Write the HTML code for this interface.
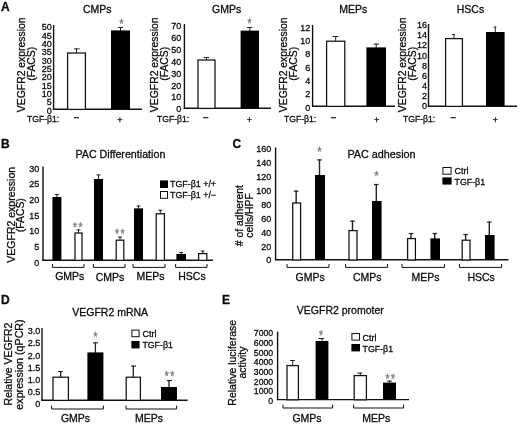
<!DOCTYPE html>
<html lang="en">
<head>
<meta charset="utf-8">
<title>Figure</title>
<style>
html,body{margin:0;padding:0;background:#fff;}
body{width:520px;height:425px;overflow:hidden;}
svg{display:block;}
svg text{font-family:"Liberation Sans", Arial, Helvetica, sans-serif;fill:#0a0a0a;stroke:#0a0a0a;stroke-width:0.28px;}
</style>
</head>
<body>
<svg width="520" height="425" viewBox="0 0 520 425">
<rect x="0" y="0" width="520" height="425" fill="#ffffff"/>
<text x="0.9" y="10.9" font-size="12" font-weight="bold">A</text>
<line x1="53.6" y1="25" x2="53.6" y2="109.7" stroke="#111" stroke-width="1.4"/>
<line x1="52.9" y1="109.2" x2="142" y2="109.2" stroke="#111" stroke-width="1.4"/>
<text x="51.8" y="113.74" font-size="9" text-anchor="end">0</text>
<text x="51.8" y="105.39" font-size="9" text-anchor="end">5</text>
<text x="51.8" y="97.04" font-size="9" text-anchor="end">10</text>
<text x="51.8" y="88.69" font-size="9" text-anchor="end">15</text>
<text x="51.8" y="80.34" font-size="9" text-anchor="end">20</text>
<text x="51.8" y="71.99" font-size="9" text-anchor="end">25</text>
<text x="51.8" y="63.64" font-size="9" text-anchor="end">30</text>
<text x="51.8" y="55.29" font-size="9" text-anchor="end">35</text>
<text x="51.8" y="46.94" font-size="9" text-anchor="end">40</text>
<text x="51.8" y="38.59" font-size="9" text-anchor="end">45</text>
<text x="51.8" y="30.24" font-size="9" text-anchor="end">50</text>
<line x1="76.5" y1="48.4" x2="76.5" y2="52.9" stroke="#222" stroke-width="1"/>
<line x1="74" y1="48.9" x2="79.6" y2="48.9" stroke="#222" stroke-width="1"/>
<rect x="67.6" y="53" width="17.8" height="56.4" fill="#fff" stroke="#111" stroke-width="1.25"/>
<line x1="120.5" y1="27" x2="120.5" y2="30.9" stroke="#222" stroke-width="1"/>
<line x1="118" y1="27.5" x2="123" y2="27.5" stroke="#222" stroke-width="1"/>
<rect x="111" y="30.4" width="19" height="78.6" fill="#000"/>
<text x="97.3" y="13" font-size="10.5" text-anchor="middle">CMPs</text>
<text x="25" y="64.8" font-size="10.4" text-anchor="middle" transform="rotate(-90 25 64.8)">VEGFR2 expression</text>
<text x="34.8" y="63.8" font-size="10.4" text-anchor="middle" transform="rotate(-90 34.8 63.8)">(FACS)</text>
<text x="27" y="122.4" font-size="8.6">TGF-β1:</text>
<text x="76.6" y="121.3" font-size="10" text-anchor="middle">−</text>
<text x="120" y="122.6" font-size="9" text-anchor="middle">+</text>
<text transform="translate(121.4 21.5) rotate(0.05) scale(0.85 1.22)" x="0" y="6.01" font-size="12" text-anchor="middle" style="fill:#7d7d7d;stroke:#7d7d7d;stroke-width:0.3px">*</text>
<line x1="184.4" y1="24" x2="184.4" y2="108.7" stroke="#111" stroke-width="1.4"/>
<line x1="183.7" y1="108.2" x2="271" y2="108.2" stroke="#111" stroke-width="1.4"/>
<text x="181.2" y="112.24" font-size="9" text-anchor="end">0</text>
<text x="181.2" y="100.38" font-size="9" text-anchor="end">10</text>
<text x="181.2" y="88.53" font-size="9" text-anchor="end">20</text>
<text x="181.2" y="76.67" font-size="9" text-anchor="end">30</text>
<text x="181.2" y="64.81" font-size="9" text-anchor="end">40</text>
<text x="181.2" y="52.95" font-size="9" text-anchor="end">50</text>
<text x="181.2" y="41.1" font-size="9" text-anchor="end">60</text>
<text x="181.2" y="29.24" font-size="9" text-anchor="end">70</text>
<line x1="206.5" y1="57" x2="206.5" y2="59.9" stroke="#222" stroke-width="1"/>
<line x1="203.6" y1="57.5" x2="209" y2="57.5" stroke="#222" stroke-width="1"/>
<rect x="198" y="60" width="17" height="48.4" fill="#fff" stroke="#111" stroke-width="1.25"/>
<line x1="249.8" y1="27" x2="249.8" y2="31.1" stroke="#222" stroke-width="1"/>
<line x1="247" y1="27.5" x2="252.4" y2="27.5" stroke="#222" stroke-width="1"/>
<rect x="240.6" y="30.6" width="18.4" height="77.4" fill="#000"/>
<text x="226.6" y="13" font-size="10.5" text-anchor="middle">GMPs</text>
<text x="158" y="64.8" font-size="10.4" text-anchor="middle" transform="rotate(-90 158 64.8)">VEGFR2 expression</text>
<text x="167.8" y="63.8" font-size="10.4" text-anchor="middle" transform="rotate(-90 167.8 63.8)">(FACS)</text>
<text x="157" y="122.4" font-size="8.6">TGF-β1:</text>
<text x="206" y="121.3" font-size="10" text-anchor="middle">−</text>
<text x="249.4" y="122.6" font-size="9" text-anchor="middle">+</text>
<text transform="translate(249.6 21) rotate(0.05) scale(0.85 1.22)" x="0" y="6.01" font-size="12" text-anchor="middle" style="fill:#7d7d7d;stroke:#7d7d7d;stroke-width:0.3px">*</text>
<line x1="312.6" y1="25" x2="312.6" y2="106.7" stroke="#111" stroke-width="1.4"/>
<line x1="311.9" y1="106.2" x2="395" y2="106.2" stroke="#111" stroke-width="1.4"/>
<text x="310.2" y="110.84" font-size="9" text-anchor="end">0</text>
<text x="310.2" y="97.47" font-size="9" text-anchor="end">2</text>
<text x="310.2" y="84.11" font-size="9" text-anchor="end">4</text>
<text x="310.2" y="70.74" font-size="9" text-anchor="end">6</text>
<text x="310.2" y="57.37" font-size="9" text-anchor="end">8</text>
<text x="310.2" y="44.01" font-size="9" text-anchor="end">10</text>
<text x="310.2" y="30.64" font-size="9" text-anchor="end">12</text>
<line x1="335.7" y1="36" x2="335.7" y2="41.1" stroke="#222" stroke-width="1"/>
<line x1="332.6" y1="36.5" x2="338.4" y2="36.5" stroke="#222" stroke-width="1"/>
<rect x="326.6" y="41.2" width="18.2" height="65.2" fill="#fff" stroke="#111" stroke-width="1.25"/>
<line x1="376.2" y1="43.6" x2="376.2" y2="47.9" stroke="#222" stroke-width="1"/>
<line x1="373.4" y1="44.1" x2="379" y2="44.1" stroke="#222" stroke-width="1"/>
<rect x="366.4" y="47.4" width="19.6" height="58.6" fill="#000"/>
<text x="353.3" y="13" font-size="10.5" text-anchor="middle">MEPs</text>
<text x="287" y="64.8" font-size="10.4" text-anchor="middle" transform="rotate(-90 287 64.8)">VEGFR2 expression</text>
<text x="296.6" y="63.8" font-size="10.4" text-anchor="middle" transform="rotate(-90 296.6 63.8)">(FACS)</text>
<text x="284" y="122.4" font-size="8.6">TGF-β1:</text>
<text x="333.6" y="121.3" font-size="10" text-anchor="middle">−</text>
<text x="376.6" y="122.6" font-size="9" text-anchor="middle">+</text>
<line x1="428.5" y1="24" x2="428.5" y2="106.7" stroke="#111" stroke-width="1.4"/>
<line x1="427.8" y1="106.2" x2="517" y2="106.2" stroke="#111" stroke-width="1.4"/>
<text x="427" y="109.24" font-size="9" text-anchor="end">0</text>
<text x="427" y="99.11" font-size="9" text-anchor="end">2</text>
<text x="427" y="88.99" font-size="9" text-anchor="end">4</text>
<text x="427" y="78.86" font-size="9" text-anchor="end">6</text>
<text x="427" y="68.74" font-size="9" text-anchor="end">8</text>
<text x="427" y="58.62" font-size="9" text-anchor="end">10</text>
<text x="427" y="48.49" font-size="9" text-anchor="end">12</text>
<text x="427" y="38.37" font-size="9" text-anchor="end">14</text>
<text x="427" y="28.24" font-size="9" text-anchor="end">16</text>
<line x1="454" y1="34" x2="454" y2="38.5" stroke="#222" stroke-width="1"/>
<line x1="452" y1="34.5" x2="455" y2="34.5" stroke="#222" stroke-width="1"/>
<rect x="445.6" y="38.6" width="16.8" height="67.8" fill="#fff" stroke="#111" stroke-width="1.25"/>
<line x1="495.3" y1="26.6" x2="495.3" y2="32.5" stroke="#222" stroke-width="1"/>
<line x1="493.6" y1="27.1" x2="496.4" y2="27.1" stroke="#222" stroke-width="1"/>
<rect x="486" y="32" width="18.6" height="74" fill="#000"/>
<text x="470.5" y="13" font-size="10.5" text-anchor="middle">HSCs</text>
<text x="406" y="64.8" font-size="10.4" text-anchor="middle" transform="rotate(-90 406 64.8)">VEGFR2 expression</text>
<text x="415.8" y="63.8" font-size="10.4" text-anchor="middle" transform="rotate(-90 415.8 63.8)">(FACS)</text>
<text x="403" y="122.4" font-size="8.6">TGF-β1:</text>
<text x="453.4" y="121.3" font-size="10" text-anchor="middle">−</text>
<text x="495.4" y="122.6" font-size="9" text-anchor="middle">+</text>
<text x="0.9" y="147.8" font-size="12" font-weight="bold">B</text>
<text x="120.4" y="158" font-size="10.7" text-anchor="middle">PAC Differentiation</text>
<line x1="43" y1="166.4" x2="43" y2="260.7" stroke="#111" stroke-width="1.4"/>
<line x1="42.3" y1="260.2" x2="213" y2="260.2" stroke="#111" stroke-width="1.4"/>
<text x="39.2" y="265.64" font-size="9" text-anchor="end">0</text>
<text x="39.2" y="249.97" font-size="9" text-anchor="end">5</text>
<text x="39.2" y="234.31" font-size="9" text-anchor="end">10</text>
<text x="39.2" y="218.64" font-size="9" text-anchor="end">15</text>
<text x="39.2" y="202.97" font-size="9" text-anchor="end">20</text>
<text x="39.2" y="187.31" font-size="9" text-anchor="end">25</text>
<text x="39.2" y="171.64" font-size="9" text-anchor="end">30</text>
<line x1="56.9" y1="194" x2="56.9" y2="197.5" stroke="#222" stroke-width="1"/>
<line x1="54.9" y1="194.5" x2="58.9" y2="194.5" stroke="#222" stroke-width="1"/>
<rect x="52.4" y="197" width="9" height="63" fill="#000"/>
<line x1="78.5" y1="229.4" x2="78.5" y2="232.9" stroke="#222" stroke-width="1"/>
<line x1="76.5" y1="229.9" x2="80.5" y2="229.9" stroke="#222" stroke-width="1"/>
<rect x="75" y="233" width="7" height="27.4" fill="#fff" stroke="#111" stroke-width="1.25"/>
<line x1="98.5" y1="174.4" x2="98.5" y2="179.5" stroke="#222" stroke-width="1"/>
<line x1="96.5" y1="174.9" x2="100.5" y2="174.9" stroke="#222" stroke-width="1"/>
<rect x="94" y="179" width="9" height="81" fill="#000"/>
<line x1="120" y1="236.6" x2="120" y2="240.1" stroke="#222" stroke-width="1"/>
<line x1="118" y1="237.1" x2="122" y2="237.1" stroke="#222" stroke-width="1"/>
<rect x="116.2" y="240.2" width="7.6" height="20.2" fill="#fff" stroke="#111" stroke-width="1.25"/>
<line x1="138.5" y1="205.5" x2="138.5" y2="208.9" stroke="#222" stroke-width="1"/>
<line x1="136.5" y1="206" x2="140.5" y2="206" stroke="#222" stroke-width="1"/>
<rect x="134" y="208.4" width="9" height="51.6" fill="#000"/>
<line x1="160.3" y1="209.8" x2="160.3" y2="213.7" stroke="#222" stroke-width="1"/>
<line x1="158.3" y1="210.3" x2="162.3" y2="210.3" stroke="#222" stroke-width="1"/>
<rect x="156.2" y="213.8" width="8.2" height="46.6" fill="#fff" stroke="#111" stroke-width="1.25"/>
<line x1="181.2" y1="252" x2="181.2" y2="254.5" stroke="#222" stroke-width="1"/>
<line x1="179.2" y1="252.5" x2="183.2" y2="252.5" stroke="#222" stroke-width="1"/>
<rect x="176.4" y="254" width="9.6" height="6" fill="#000"/>
<line x1="202.7" y1="250.6" x2="202.7" y2="253.5" stroke="#222" stroke-width="1"/>
<line x1="200.7" y1="251.1" x2="204.7" y2="251.1" stroke="#222" stroke-width="1"/>
<rect x="198.6" y="253.6" width="8.2" height="6.8" fill="#fff" stroke="#111" stroke-width="1.25"/>
<text transform="translate(74.95 225) rotate(0.05) scale(0.85 1.22)" x="0" y="6.01" font-size="12" text-anchor="middle" style="fill:#7d7d7d;stroke:#7d7d7d;stroke-width:0.3px">*</text>
<text transform="translate(80.45 225) rotate(0.05) scale(0.85 1.22)" x="0" y="6.01" font-size="12" text-anchor="middle" style="fill:#7d7d7d;stroke:#7d7d7d;stroke-width:0.3px">*</text>
<text transform="translate(116.95 231.4) rotate(0.05) scale(0.85 1.22)" x="0" y="6.01" font-size="12" text-anchor="middle" style="fill:#7d7d7d;stroke:#7d7d7d;stroke-width:0.3px">*</text>
<text transform="translate(122.45 231.4) rotate(0.05) scale(0.85 1.22)" x="0" y="6.01" font-size="12" text-anchor="middle" style="fill:#7d7d7d;stroke:#7d7d7d;stroke-width:0.3px">*</text>
<polyline points="52.4,264 52.4,267.4 84,267.4 84,264" fill="none" stroke="#111" stroke-width="1"/>
<polyline points="93.4,264 93.4,267.4 125,267.4 125,264" fill="none" stroke="#111" stroke-width="1"/>
<polyline points="133,264 133,267.4 165,267.4 165,264" fill="none" stroke="#111" stroke-width="1"/>
<polyline points="175.6,264 175.6,267.4 207,267.4 207,264" fill="none" stroke="#111" stroke-width="1"/>
<text x="69.8" y="280" font-size="10.5" text-anchor="middle">GMPs</text>
<text x="110" y="280.6" font-size="10.5" text-anchor="middle">CMPs</text>
<text x="150.5" y="279.8" font-size="10.5" text-anchor="middle">MEPs</text>
<text x="192" y="279.8" font-size="10.5" text-anchor="middle">HSCs</text>
<rect x="160" y="180.4" width="8" height="7.6" fill="#000"/>
<rect x="160.5" y="191.5" width="7" height="6.8" fill="#fff" stroke="#111" stroke-width="1"/>
<text x="170" y="187.3" font-size="8.9">TGF-β1 +/+</text>
<text x="170" y="197.5" font-size="8.9">TGF-β1 +/−</text>
<text x="14.6" y="214.8" font-size="10.5" text-anchor="middle" transform="rotate(-90 14.6 214.8)">VEGFR2 expression</text>
<text x="24.3" y="215.2" font-size="10.4" text-anchor="middle" transform="rotate(-90 24.3 215.2)">(FACS)</text>
<text x="232.6" y="147.7" font-size="12" font-weight="bold">C</text>
<text x="381.5" y="157.7" font-size="10.8" text-anchor="middle">PAC adhesion</text>
<line x1="275.6" y1="147.4" x2="275.6" y2="260.3" stroke="#111" stroke-width="1.4"/>
<line x1="274.9" y1="259.8" x2="508.4" y2="259.8" stroke="#111" stroke-width="1.4"/>
<text x="271.2" y="263.44" font-size="9" text-anchor="end">0</text>
<text x="271.2" y="249.5" font-size="9" text-anchor="end">20</text>
<text x="271.2" y="235.56" font-size="9" text-anchor="end">40</text>
<text x="271.2" y="221.63" font-size="9" text-anchor="end">60</text>
<text x="271.2" y="207.69" font-size="9" text-anchor="end">80</text>
<text x="271.2" y="193.75" font-size="9" text-anchor="end">100</text>
<text x="271.2" y="179.81" font-size="9" text-anchor="end">120</text>
<text x="271.2" y="165.88" font-size="9" text-anchor="end">140</text>
<text x="271.2" y="151.94" font-size="9" text-anchor="end">160</text>
<line x1="296.15" y1="190.6" x2="296.15" y2="202.9" stroke="#222" stroke-width="1.4"/>
<line x1="293.85" y1="191.1" x2="298.45" y2="191.1" stroke="#222" stroke-width="1.2"/>
<rect x="292.7" y="203" width="7.9" height="57" fill="#fff" stroke="#111" stroke-width="1.25"/>
<line x1="319.5" y1="159.4" x2="319.5" y2="175.5" stroke="#222" stroke-width="1.4"/>
<line x1="317.2" y1="159.9" x2="321.8" y2="159.9" stroke="#222" stroke-width="1.2"/>
<rect x="315" y="175" width="10" height="84.6" fill="#000"/>
<line x1="352.5" y1="220.6" x2="352.5" y2="230.5" stroke="#222" stroke-width="1.4"/>
<line x1="350.2" y1="221.1" x2="354.8" y2="221.1" stroke="#222" stroke-width="1.2"/>
<rect x="349" y="230.6" width="8" height="29.4" fill="#fff" stroke="#111" stroke-width="1.25"/>
<line x1="376.3" y1="184" x2="376.3" y2="201.5" stroke="#222" stroke-width="1.4"/>
<line x1="374" y1="184.5" x2="378.6" y2="184.5" stroke="#222" stroke-width="1.2"/>
<rect x="372" y="201" width="9.6" height="58.6" fill="#000"/>
<line x1="411" y1="233" x2="411" y2="238.5" stroke="#222" stroke-width="1.4"/>
<line x1="408.7" y1="233.5" x2="413.3" y2="233.5" stroke="#222" stroke-width="1.2"/>
<rect x="407.6" y="238.6" width="7.8" height="21.4" fill="#fff" stroke="#111" stroke-width="1.25"/>
<line x1="434.7" y1="233" x2="434.7" y2="238.9" stroke="#222" stroke-width="1.4"/>
<line x1="432.4" y1="233.5" x2="437" y2="233.5" stroke="#222" stroke-width="1.2"/>
<rect x="430.4" y="238.4" width="9.6" height="21.2" fill="#000"/>
<line x1="465.6" y1="234" x2="465.6" y2="240.1" stroke="#222" stroke-width="1.4"/>
<line x1="463.3" y1="234.5" x2="467.9" y2="234.5" stroke="#222" stroke-width="1.2"/>
<rect x="462.2" y="240.2" width="7.8" height="19.8" fill="#fff" stroke="#111" stroke-width="1.25"/>
<line x1="489.3" y1="221.6" x2="489.3" y2="235.5" stroke="#222" stroke-width="1.4"/>
<line x1="487" y1="222.1" x2="491.6" y2="222.1" stroke="#222" stroke-width="1.2"/>
<rect x="485" y="235" width="9.6" height="24.6" fill="#000"/>
<text transform="translate(319.6 149.4) rotate(0.05) scale(0.85 1.22)" x="0" y="6.01" font-size="12" text-anchor="middle" style="fill:#7d7d7d;stroke:#7d7d7d;stroke-width:0.3px">*</text>
<text transform="translate(376.4 173.6) rotate(0.05) scale(0.85 1.22)" x="0" y="6.01" font-size="12" text-anchor="middle" style="fill:#7d7d7d;stroke:#7d7d7d;stroke-width:0.3px">*</text>
<polyline points="287,264 287,267.4 329,267.4 329,264" fill="none" stroke="#111" stroke-width="1"/>
<polyline points="345.6,264 345.6,267.4 387.6,267.4 387.6,264" fill="none" stroke="#111" stroke-width="1"/>
<polyline points="402,264 402,267.4 444.4,267.4 444.4,264" fill="none" stroke="#111" stroke-width="1"/>
<polyline points="459.4,264 459.4,267.4 501.6,267.4 501.6,264" fill="none" stroke="#111" stroke-width="1"/>
<text x="310.2" y="281" font-size="10.5" text-anchor="middle">GMPs</text>
<text x="367.3" y="281" font-size="10.5" text-anchor="middle">CMPs</text>
<text x="425.5" y="280.6" font-size="10.5" text-anchor="middle">MEPs</text>
<text x="481.1" y="280.6" font-size="10.5" text-anchor="middle">HSCs</text>
<rect x="442.9" y="167.5" width="8.2" height="6.7" fill="#fff" stroke="#111" stroke-width="1"/>
<rect x="442.4" y="177.4" width="9.2" height="7.2" fill="#000"/>
<text x="454.6" y="174.3" font-size="9">Ctrl</text>
<text x="454.6" y="185" font-size="8.8">TGF-β1</text>
<text x="242.7" y="215.6" font-size="10.4" text-anchor="middle" transform="rotate(-90 242.7 215.6)"># of adherent</text>
<text x="252.6" y="215.4" font-size="10.4" text-anchor="middle" transform="rotate(-90 252.6 215.4)">cells/HPF</text>
<text x="0.9" y="303.6" font-size="12" font-weight="bold">D</text>
<text x="110.2" y="316.4" font-size="10.5" text-anchor="middle">VEGFR2 mRNA</text>
<line x1="42" y1="328" x2="42" y2="400.7" stroke="#111" stroke-width="1.4"/>
<line x1="41.3" y1="400.2" x2="187.6" y2="400.2" stroke="#111" stroke-width="1.4"/>
<text x="40.2" y="407.24" font-size="9" text-anchor="end">0</text>
<text x="40.2" y="395.07" font-size="9" text-anchor="end">0.5</text>
<text x="40.2" y="382.91" font-size="9" text-anchor="end">1.0</text>
<text x="40.2" y="370.74" font-size="9" text-anchor="end">1.5</text>
<text x="40.2" y="358.57" font-size="9" text-anchor="end">2.0</text>
<text x="40.2" y="346.41" font-size="9" text-anchor="end">2.5</text>
<text x="40.2" y="334.24" font-size="9" text-anchor="end">3.0</text>
<line x1="60.7" y1="371" x2="60.7" y2="377.1" stroke="#222" stroke-width="1.3"/>
<line x1="58" y1="371.5" x2="62.6" y2="371.5" stroke="#222" stroke-width="1.1"/>
<rect x="53" y="377.2" width="15.4" height="23.2" fill="#fff" stroke="#111" stroke-width="1.25"/>
<line x1="95.4" y1="342.4" x2="95.4" y2="352.9" stroke="#222" stroke-width="1.3"/>
<line x1="93" y1="342.9" x2="98" y2="342.9" stroke="#222" stroke-width="1.1"/>
<rect x="87.4" y="352.4" width="16" height="47.6" fill="#000"/>
<line x1="133.3" y1="365.6" x2="133.3" y2="377.1" stroke="#222" stroke-width="1.3"/>
<line x1="131" y1="366.1" x2="136" y2="366.1" stroke="#222" stroke-width="1.1"/>
<rect x="126.2" y="377.2" width="14.2" height="23.2" fill="#fff" stroke="#111" stroke-width="1.25"/>
<line x1="169" y1="380" x2="169" y2="387.5" stroke="#222" stroke-width="1.3"/>
<line x1="167" y1="380.5" x2="172" y2="380.5" stroke="#222" stroke-width="1.1"/>
<rect x="161" y="387" width="16" height="13" fill="#000"/>
<text transform="translate(95.6 334.4) rotate(0.05) scale(0.85 1.22)" x="0" y="6.01" font-size="12" text-anchor="middle" style="fill:#7d7d7d;stroke:#7d7d7d;stroke-width:0.3px">*</text>
<text transform="translate(166.75 373.6) rotate(0.05) scale(0.85 1.22)" x="0" y="6.01" font-size="12" text-anchor="middle" style="fill:#7d7d7d;stroke:#7d7d7d;stroke-width:0.3px">*</text>
<text transform="translate(172.25 373.6) rotate(0.05) scale(0.85 1.22)" x="0" y="6.01" font-size="12" text-anchor="middle" style="fill:#7d7d7d;stroke:#7d7d7d;stroke-width:0.3px">*</text>
<polyline points="51.6,405.6 51.6,409 103.4,409 103.4,405.6" fill="none" stroke="#111" stroke-width="1"/>
<polyline points="126,405.6 126,409 176.6,409 176.6,405.6" fill="none" stroke="#111" stroke-width="1"/>
<text x="75.5" y="422" font-size="10.5" text-anchor="middle">GMPs</text>
<text x="149" y="422" font-size="10.5" text-anchor="middle">MEPs</text>
<rect x="131.9" y="330.1" width="7.2" height="6.6" fill="#fff" stroke="#111" stroke-width="1"/>
<rect x="131.4" y="341" width="8.2" height="7.4" fill="#000"/>
<text x="142.4" y="337" font-size="9">Ctrl</text>
<text x="142.4" y="348.4" font-size="8.8">TGF-β1</text>
<text x="12.2" y="364" font-size="10.5" text-anchor="middle" transform="rotate(-90 12.2 364)">Relative VEGFR2</text>
<text x="23.2" y="364.5" font-size="10.7" text-anchor="middle" transform="rotate(-90 23.2 364.5)">expression (qPCR)</text>
<text x="222.1" y="303.6" font-size="12" font-weight="bold">E</text>
<text x="340.3" y="314.2" font-size="10.5" text-anchor="middle">VEGFR2 promoter</text>
<line x1="277.6" y1="331.6" x2="277.6" y2="400.1" stroke="#111" stroke-width="1.4"/>
<line x1="276.9" y1="399.6" x2="409" y2="399.6" stroke="#111" stroke-width="1.4"/>
<text x="273.2" y="403.93" font-size="8.7" text-anchor="end">0</text>
<text x="273.2" y="394.29" font-size="8.7" text-anchor="end">1000</text>
<text x="273.2" y="384.65" font-size="8.7" text-anchor="end">2000</text>
<text x="273.2" y="375" font-size="8.7" text-anchor="end">3000</text>
<text x="273.2" y="365.36" font-size="8.7" text-anchor="end">4000</text>
<text x="273.2" y="355.72" font-size="8.7" text-anchor="end">5000</text>
<text x="273.2" y="346.07" font-size="8.7" text-anchor="end">6000</text>
<text x="273.2" y="336.43" font-size="8.7" text-anchor="end">7000</text>
<line x1="292.7" y1="360" x2="292.7" y2="365.5" stroke="#222" stroke-width="1"/>
<line x1="290" y1="360.5" x2="295" y2="360.5" stroke="#222" stroke-width="1"/>
<rect x="287" y="365.6" width="11.4" height="34.2" fill="#fff" stroke="#111" stroke-width="1.25"/>
<line x1="322" y1="338" x2="322" y2="341.5" stroke="#222" stroke-width="1"/>
<line x1="318.4" y1="338.5" x2="324" y2="338.5" stroke="#222" stroke-width="1"/>
<rect x="315.6" y="341" width="12.8" height="58.4" fill="#000"/>
<line x1="360.3" y1="372.6" x2="360.3" y2="375.5" stroke="#222" stroke-width="1"/>
<line x1="357.4" y1="373.1" x2="362.4" y2="373.1" stroke="#222" stroke-width="1"/>
<rect x="354.2" y="375.6" width="12.2" height="24.2" fill="#fff" stroke="#111" stroke-width="1.25"/>
<line x1="389.5" y1="380.6" x2="389.5" y2="383.1" stroke="#222" stroke-width="1"/>
<line x1="387" y1="381.1" x2="392" y2="381.1" stroke="#222" stroke-width="1"/>
<rect x="383" y="382.6" width="13" height="16.8" fill="#000"/>
<text transform="translate(321 333) rotate(0.05) scale(0.85 1.22)" x="0" y="6.01" font-size="12" text-anchor="middle" style="fill:#7d7d7d;stroke:#7d7d7d;stroke-width:0.3px">*</text>
<text transform="translate(387.55 376.5) rotate(0.05) scale(0.85 1.22)" x="0" y="6.01" font-size="12" text-anchor="middle" style="fill:#7d7d7d;stroke:#7d7d7d;stroke-width:0.3px">*</text>
<text transform="translate(393.05 376.5) rotate(0.05) scale(0.85 1.22)" x="0" y="6.01" font-size="12" text-anchor="middle" style="fill:#7d7d7d;stroke:#7d7d7d;stroke-width:0.3px">*</text>
<polyline points="283,404.6 283,408 332.6,408 332.6,404.6" fill="none" stroke="#111" stroke-width="1"/>
<polyline points="353.6,404.6 353.6,408 403.6,408 403.6,404.6" fill="none" stroke="#111" stroke-width="1"/>
<text x="307" y="421.6" font-size="10.5" text-anchor="middle">GMPs</text>
<text x="376.2" y="421.6" font-size="10.5" text-anchor="middle">MEPs</text>
<rect x="351.9" y="333.5" width="7.6" height="6.6" fill="#fff" stroke="#111" stroke-width="1"/>
<rect x="351.4" y="344" width="8.6" height="7.4" fill="#000"/>
<text x="362.6" y="340.6" font-size="9">Ctrl</text>
<text x="362.6" y="351.6" font-size="8.8">TGF-β1</text>
<text x="236" y="362.8" font-size="10.5" text-anchor="middle" transform="rotate(-90 236 362.8)">Relative luciferase</text>
<text x="245.9" y="362.5" font-size="10.5" text-anchor="middle" transform="rotate(-90 245.9 362.5)">activity</text>
</svg>
</body>
</html>
